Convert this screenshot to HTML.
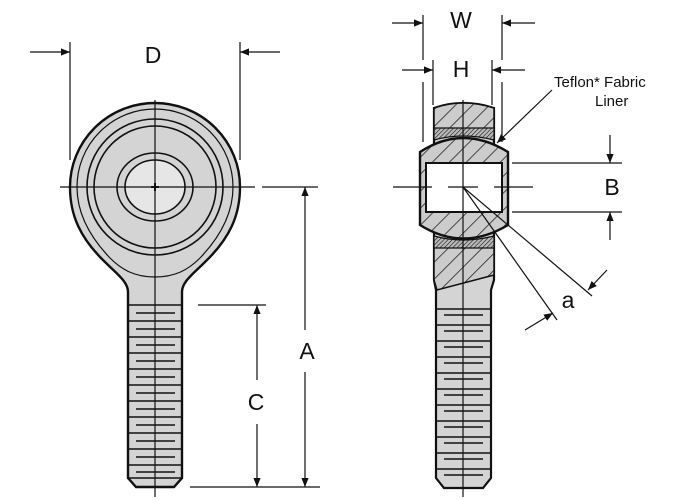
<!DOCTYPE html>
<html><head><style>body{margin:0;background:#fff}svg{display:block}text{font-family:"Liberation Sans",sans-serif;fill:#111}</style></head>
<body>
<svg width="700" height="500" viewBox="0 0 700 500">
<defs>
<pattern id="h" width="12" height="12" patternUnits="userSpaceOnUse" patternTransform="rotate(45)">
<rect width="12" height="12" fill="#ccc"/><line x1="0" y1="0" x2="0" y2="12" stroke="#222" stroke-width="1.6"/></pattern>
<pattern id="f" width="3" height="3" patternUnits="userSpaceOnUse" patternTransform="rotate(45)">
<rect width="3" height="3" fill="#bbb"/><line x1="0" y1="0" x2="0" y2="3" stroke="#111" stroke-width="1.2"/></pattern>
<marker id="ar" viewBox="0 0 10 10" refX="10" refY="5" markerWidth="12" markerHeight="9" orient="auto-start-reverse" markerUnits="userSpaceOnUse"><path d="M0,1 L10,5 L0,9z" fill="#111"/></marker>
</defs>
<g stroke="#111" fill="none">
<path d="M128,305 L128,292 C128,282 118,275 105,262 C80,238 70,215 70,187 A85,84 0 1 1 240,187 C240,215 230,238 205,262 C192,275 182,282 182,292 L182,478 L174,487 L136,487 L128,478 Z" fill="#d4d4d4" stroke-width="2.4"/>
<path d="M77,187 A78,78 0 1 1 233,187 C233,212 222,235 200,258 C188,270 175,277 155,277 C135,277 122,270 110,258 C88,235 77,212 77,187Z" stroke-width="1.2"/>
<circle cx="155" cy="187" r="68" stroke-width="1.6"/>
<circle cx="155" cy="187" r="61" stroke-width="1.6"/>
<ellipse cx="155" cy="187" rx="38" ry="34" stroke-width="1.6"/>
<ellipse cx="155" cy="187" rx="30" ry="27" fill="#e6e6e6" stroke-width="1.6"/>
<g stroke-width="1.4">
<line x1="128" y1="305" x2="182" y2="305"/><line x1="128" y1="321" x2="182" y2="321"/><line x1="128" y1="337" x2="182" y2="337"/><line x1="128" y1="353" x2="182" y2="353"/><line x1="128" y1="369" x2="182" y2="369"/><line x1="128" y1="385" x2="182" y2="385"/><line x1="128" y1="401" x2="182" y2="401"/><line x1="128" y1="417" x2="182" y2="417"/><line x1="128" y1="433" x2="182" y2="433"/><line x1="128" y1="449" x2="182" y2="449"/><line x1="128" y1="465" x2="182" y2="465"/><line x1="128" y1="478" x2="182" y2="478"/>
<line x1="136" y1="313" x2="175" y2="313"/><line x1="136" y1="329" x2="175" y2="329"/><line x1="136" y1="345" x2="175" y2="345"/><line x1="136" y1="361" x2="175" y2="361"/><line x1="136" y1="377" x2="175" y2="377"/><line x1="136" y1="393" x2="175" y2="393"/><line x1="136" y1="409" x2="175" y2="409"/><line x1="136" y1="425" x2="175" y2="425"/><line x1="136" y1="441" x2="175" y2="441"/><line x1="136" y1="457" x2="175" y2="457"/><line x1="136" y1="472" x2="175" y2="472"/>
</g>
<g stroke-width="1.2">
<line x1="155" y1="100" x2="155" y2="497"/><line x1="60" y1="187" x2="255" y2="187"/>
<line x1="70" y1="42" x2="70" y2="160"/><line x1="240" y1="42" x2="240" y2="160"/>
<line x1="30" y1="52" x2="70" y2="52" marker-end="url(#ar)"/><line x1="280" y1="52" x2="240" y2="52" marker-end="url(#ar)"/>
<line x1="262" y1="187" x2="318" y2="187"/><line x1="190" y1="487" x2="320" y2="487"/>
<line x1="198" y1="305" x2="266" y2="305"/>
<line x1="305" y1="187" x2="305" y2="330" marker-start="url(#ar)"/><line x1="305" y1="372" x2="305" y2="487" marker-end="url(#ar)"/>
<line x1="257" y1="305" x2="257" y2="380" marker-start="url(#ar)"/><line x1="257" y1="424" x2="257" y2="487" marker-end="url(#ar)"/>
</g>
<path d="M434,108 Q463,98 494,108 L494,280 L491,290 L491,478 L483,488 L444,488 L436,478 L436,290 L434,280 Z" fill="#d4d4d4" stroke-width="2.2"/>
<path d="M434,108 Q463,98 494,108 L494,135 L434,135Z M434,240 L494,240 L494,275 L437,290 L434,280Z" fill="url(#h)" stroke-width="1.5"/>
<path d="M434,128 L494,128 L494,140 Q463,132 434,140Z" fill="url(#f)" stroke-width="1.2"/>
<path d="M434,236 Q463,244 494,236 L494,248 L434,248Z" fill="url(#f)" stroke-width="1.2"/>
<path d="M420,152 Q463,124 508,152 L508,225 Q463,252 420,225Z" fill="url(#h)" stroke-width="2.4"/>
<rect x="426" y="163" width="76" height="49" fill="#fff" stroke-width="2"/>
<g stroke-width="1.4">
<line x1="436" y1="309" x2="491" y2="309"/><line x1="436" y1="325" x2="491" y2="325"/><line x1="436" y1="341" x2="491" y2="341"/><line x1="436" y1="357" x2="491" y2="357"/><line x1="436" y1="373" x2="491" y2="373"/><line x1="436" y1="389" x2="491" y2="389"/><line x1="436" y1="405" x2="491" y2="405"/><line x1="436" y1="421" x2="491" y2="421"/><line x1="436" y1="437" x2="491" y2="437"/><line x1="436" y1="453" x2="491" y2="453"/><line x1="436" y1="469" x2="491" y2="469"/>
<line x1="444" y1="315" x2="483" y2="315"/><line x1="444" y1="331" x2="483" y2="331"/><line x1="444" y1="347" x2="483" y2="347"/><line x1="444" y1="363" x2="483" y2="363"/><line x1="444" y1="379" x2="483" y2="379"/><line x1="444" y1="395" x2="483" y2="395"/><line x1="444" y1="411" x2="483" y2="411"/><line x1="444" y1="427" x2="483" y2="427"/><line x1="444" y1="443" x2="483" y2="443"/><line x1="444" y1="459" x2="483" y2="459"/><line x1="444" y1="475" x2="483" y2="475"/>
</g>
<g stroke-width="1.2">
<line x1="463" y1="100" x2="463" y2="497"/>
<line x1="393" y1="187" x2="432" y2="187"/><line x1="448" y1="187" x2="478" y2="187"/><line x1="494" y1="187" x2="533" y2="187"/>
<line x1="423" y1="15" x2="423" y2="60"/><line x1="423" y1="82" x2="423" y2="142"/>
<line x1="502" y1="15" x2="502" y2="60"/><line x1="502" y1="82" x2="502" y2="142"/>
<line x1="392" y1="23" x2="423" y2="23" marker-end="url(#ar)"/><line x1="535" y1="23" x2="502" y2="23" marker-end="url(#ar)"/>
<line x1="433" y1="60" x2="433" y2="105"/><line x1="492" y1="60" x2="492" y2="105"/>
<line x1="402" y1="70" x2="433" y2="70" marker-end="url(#ar)"/><line x1="525" y1="70" x2="492" y2="70" marker-end="url(#ar)"/>
<line x1="552" y1="90" x2="497" y2="143" marker-end="url(#ar)"/>
<line x1="512" y1="163" x2="622" y2="163"/><line x1="512" y1="212" x2="622" y2="212"/>
<line x1="610" y1="135" x2="610" y2="163" marker-end="url(#ar)"/><line x1="610" y1="240" x2="610" y2="212" marker-end="url(#ar)"/>
<line x1="463" y1="187" x2="592" y2="296"/><line x1="463" y1="187" x2="557" y2="320"/>
<line x1="607" y1="270" x2="588" y2="290" marker-end="url(#ar)"/><line x1="525" y1="330" x2="553" y2="313" marker-end="url(#ar)"/>
</g>
</g>
<g stroke="#111" stroke-width="2"><line x1="151" y1="187" x2="159" y2="187"/><line x1="155" y1="183" x2="155" y2="191"/></g>
<text x="153" y="63" font-size="23" text-anchor="middle">D</text>
<text x="307" y="359" font-size="23" text-anchor="middle">A</text>
<text x="256" y="410" font-size="23" text-anchor="middle">C</text>
<text x="461" y="28" font-size="23" text-anchor="middle">W</text>
<text x="461" y="77" font-size="23" text-anchor="middle">H</text>
<text x="612" y="195" font-size="23" text-anchor="middle">B</text>
<text x="568" y="308" font-size="23" text-anchor="middle">a</text>
<text x="554" y="87" font-size="15">Teflon* Fabric</text>
<text x="595" y="106" font-size="15">Liner</text>
</svg>
</body></html>
